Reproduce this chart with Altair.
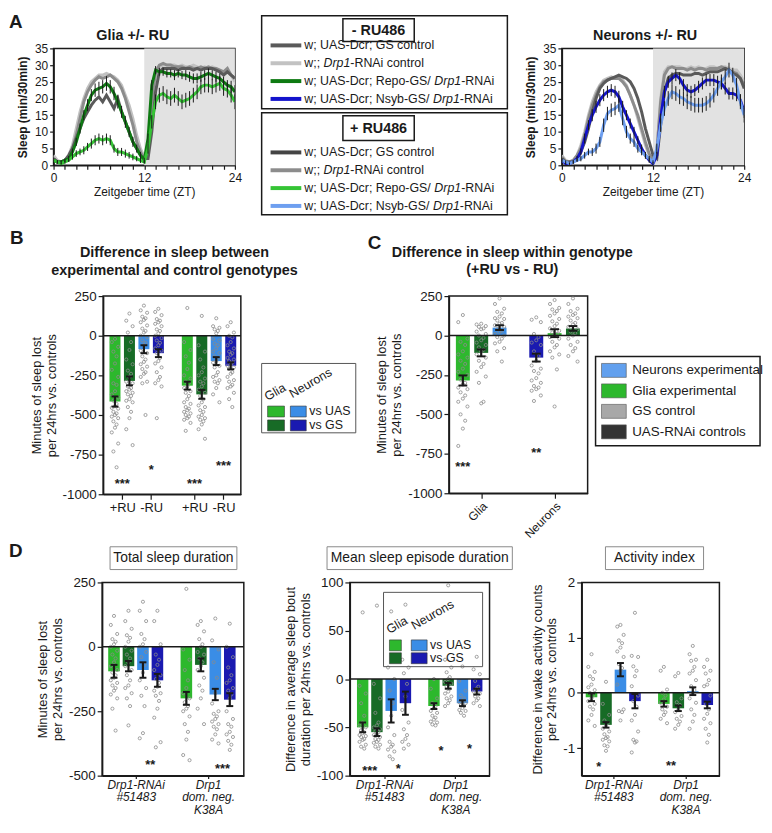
import altair as alt
import pandas as pd

FONT = "Liberation Sans"
INK = "#1a1a1a"
PT_GRAY = "#8a8a8a"

# ================= Panel A : sleep profiles (min sleep / 30 min) =================
ZT = [0, 0.5, 1, 1.5, 2, 2.5, 3, 3.5, 4, 4.5, 5, 5.5, 6, 6.5, 7, 7.5, 8, 8.5, 9, 9.5,
      10, 10.5, 11, 11.5, 12, 12.5, 13, 13.5, 14, 14.5, 15, 15.5, 16, 16.5, 17, 17.5,
      18, 18.5, 19, 19.5, 20, 20.5, 21, 21.5, 22, 22.5, 23, 23.5, 24]
A_XTICKS = [0, 1.5, 3, 4.5, 6, 7.5, 9, 10.5, 12, 13.5, 15, 16.5, 18, 19.5, 21, 22.5, 24]
A_YTICKS = [0, 5, 10, 15, 20, 25, 30, 35]
NIGHT_START = [12]
NIGHT_END = [24]

GLIA_RNAI_CTRL_NORU = [3, 1.5, 1, 1.5, 3, 6, 11, 16, 20, 23, 25, 26, 27, 27, 27.5, 27, 26.5, 25.5, 24, 21, 18, 14, 9, 5, 2.5,
                       3, 18, 27, 29.5, 30, 30, 30, 30, 29.5, 30, 29.5, 29.5, 30, 29.5, 29, 29.5, 29, 29.5, 29, 28.5, 28, 28.5, 27, 25]
GLIA_RNAI_CTRL_RU = [2, 1, 1, 1.5, 2.5, 5, 9, 14, 19, 22, 24, 25.5, 26.5, 26, 26.5, 27, 26, 25, 23, 20, 16, 12, 7, 4, 2,
                     3, 20, 28, 30, 30.5, 30, 30, 29.5, 29.5, 29.5, 29, 29.5, 29, 29, 29.5, 29, 29.5, 29, 29, 28.5, 28, 29, 27, 26]
GLIA_GS_CTRL = [2, 1, 1, 1.5, 3, 5, 8, 11, 14, 16, 18, 19.5, 20.5, 19, 21, 19, 17, 20, 16, 13, 10, 7, 5, 3, 2,
                2, 10, 22, 28, 29, 29, 29, 29, 28.5, 29, 29, 29, 28.5, 29, 28.5, 29, 29, 29, 28.5, 28, 27, 28, 27, 26]
GLIA_EXP_NORU = [1.5, 1, 1, 1.5, 2, 4, 7, 11, 15, 18, 21, 22.5, 23, 23.5, 24.5, 23.5, 21.5, 19, 16, 13, 10, 7, 5, 3, 1.5,
                 8, 24, 28.5, 28, 28, 27.5, 27.5, 27, 27.5, 27, 27, 26.5, 26, 26, 26.5, 27, 27.5, 27, 26.5, 26, 25, 24, 23.5, 22]
GLIA_EXP_RU = [1.5, 1, 0.5, 1, 1.5, 2.5, 3.5, 4, 4.5, 5.5, 6.5, 7.5, 8, 7.5, 8, 7.5, 5, 4, 4, 3.5, 3, 2.5, 2, 1.5, 1,
               5, 13, 19, 21, 21.5, 20.5, 20, 21, 20, 19, 19.5, 20, 21, 22, 23.5, 24, 24, 23.5, 24, 24.5, 23, 22.5, 21, 19]
GLIA_EXP_NORU_SEM = [0.5, 0.5, 0.5, 0.5, 0.8, 1, 1.2, 1.5, 1.5, 1.8, 1.8, 2, 2, 2, 2.2, 2, 2, 2, 1.8, 1.8, 1.5, 1.5, 1.2, 1, 0.8,
                     1.5, 1.5, 1.2, 1.2, 1.2, 1.2, 1.2, 1.5, 1.2, 1.2, 1.5, 1.5, 1.5, 1.5, 1.5, 1.5, 1.5, 1.5, 1.5, 1.5, 1.5, 1.5, 1.8, 2]
GLIA_EXP_RU_SEM = [0.5, 0.5, 0.3, 0.5, 0.5, 0.8, 1, 1, 1.2, 1.2, 1.5, 1.5, 1.5, 1.5, 1.5, 1.5, 1.2, 1.2, 1.2, 1.2, 1, 1, 0.8, 0.8, 0.5,
                   1.5, 2, 2.2, 2.2, 2.2, 2.2, 2.2, 2.2, 2.2, 2.2, 2.2, 2.2, 2.2, 2.2, 2.2, 2.2, 2.2, 2.2, 2.2, 2.2, 2.2, 2.2, 2.2, 2.2]

NEU_RNAI_CTRL_NORU = [3, 1.5, 1, 1.5, 3, 6, 10, 15, 19, 22, 24, 25.5, 26, 26.5, 26, 26.5, 25.5, 24, 21, 18, 14, 10, 6, 3, 1.5,
                      4, 20, 28, 29.5, 29.5, 29.5, 29.5, 29, 29, 29.5, 29, 29.5, 29, 29, 29.5, 29.5, 29, 29.5, 29.5, 29, 28.5, 28.5, 27, 25]
NEU_RNAI_CTRL_RU = [2.5, 1, 1, 1.5, 3, 5, 9, 14, 18, 21, 23.5, 25, 25.5, 26, 26, 26, 25, 23.5, 21, 18, 15, 11, 7, 3.5, 1.5,
                    4, 19, 27, 29, 29.5, 29, 29, 29, 28.5, 29, 28.5, 29, 29, 28.5, 29, 29, 29, 29.5, 29, 28.5, 28, 27.5, 26, 24]
NEU_GS_CTRL = [2, 1, 1, 1, 2, 4, 7, 11, 16, 20, 23, 24.5, 25.5, 26, 26.5, 27, 26.5, 26, 25, 23, 20, 16, 11, 7, 3,
               2, 12, 22, 26, 27, 27.5, 27.5, 27, 27, 27, 27.5, 27.5, 27, 27.5, 28, 28, 28, 28.5, 29, 28.5, 27.5, 27, 26, 23]
NEU_EXP_NORU = [1.5, 0.5, 0.5, 1, 2, 4, 8, 12, 15, 17.5, 19.5, 21, 22, 22.5, 22, 20.5, 17.5, 15, 12.5, 10, 7.5, 5, 3, 1.5, 0.5,
                3, 14, 22, 25, 26, 27, 26, 24, 22.5, 22, 22.5, 23.5, 24.5, 25.5, 25.5, 25.5, 25, 24.5, 23, 21.5, 21.5, 21, 19.5, 16]
NEU_EXP_RU = [1.5, 1, 0.5, 1, 1.5, 2, 3, 4, 4, 5, 7, 12, 15.5, 16.5, 17, 18, 14, 10, 8, 7, 5, 4, 3, 2, 1,
              5, 12, 17, 20, 22, 21.5, 20.5, 20, 19, 18.5, 18, 18, 18, 18.5, 19.5, 21, 23, 25, 26.5, 28.5, 27, 24, 19, 15]
NEU_EXP_NORU_SEM = [0.5, 0.3, 0.3, 0.5, 0.8, 1, 1.5, 1.5, 1.8, 1.8, 1.8, 1.8, 1.8, 1.8, 1.8, 1.8, 1.8, 1.5, 1.5, 1.5, 1.2, 1.2, 1, 0.8, 0.5,
                    1, 1.5, 1.8, 1.8, 1.8, 1.8, 1.8, 1.8, 1.8, 1.8, 1.8, 1.8, 1.8, 1.8, 1.8, 1.8, 1.8, 1.8, 1.8, 1.8, 1.8, 1.8, 1.8, 1.8]
NEU_EXP_RU_SEM = [0.5, 0.5, 0.3, 0.5, 0.5, 0.8, 1, 1, 1.2, 1.5, 1.5, 2, 2, 2, 2, 2, 2, 1.8, 1.5, 1.5, 1.2, 1, 1, 0.8, 0.5,
                  1.5, 2, 2.2, 2.2, 2.2, 2.2, 2.2, 2.2, 2.2, 2.2, 2.2, 2.2, 2.2, 2.2, 2.2, 2.2, 2.2, 2.2, 2.2, 2.2, 2.2, 2.2, 2.2, 2.2]

for _s in [GLIA_RNAI_CTRL_NORU, GLIA_RNAI_CTRL_RU, GLIA_GS_CTRL, GLIA_EXP_NORU, GLIA_EXP_RU, GLIA_EXP_NORU_SEM,
           GLIA_EXP_RU_SEM, NEU_RNAI_CTRL_NORU, NEU_RNAI_CTRL_RU, NEU_GS_CTRL, NEU_EXP_NORU, NEU_EXP_RU,
           NEU_EXP_NORU_SEM, NEU_EXP_RU_SEM]:
    assert len(_s) == len(ZT), len(_s)

LEG_NORU = ["w; UAS-Dcr; GS control", "w;; Drp1-RNAi control",
            "w; UAS-Dcr; Repo-GS/ Drp1-RNAi", "w; UAS-Dcr; Nsyb-GS/ Drp1-RNAi"]
LEG_RU = ["w; UAS-Dcr; GS control", "w;; Drp1-RNAi  control",
          "w; UAS-Dcr; Repo-GS/ Drp1-RNAi", "w; UAS-Dcr; Nsyb-GS/ Drp1-RNAi"]

# colours (style)
C_GS_NORU, C_RNAI_NORU, C_REPO_NORU, C_NSYB_NORU = "#5a5a5a", "#c2c2c2", "#0e7a12", "#1414cc"
C_GS_RU, C_RNAI_RU, C_REPO_RU, C_NSYB_RU = "#444444", "#8c8c8c", "#35c435", "#6e9ff0"
COL_GLIA_UAS, COL_GLIA_GS, COL_NEU_UAS, COL_NEU_GS = "#2db82d", "#176b26", "#3a8de6", "#1a1ab0"

# ================= Panel B =================
B_TICK_LABELS = ["+RU", "-RU", "+RU", "-RU"]
B_MEANS = [-415, -285, -85, -110, -315, -370, -160, -190]
B_SEMS = [32, 28, 25, 25, 25, 28, 25, 22]
B_POINTS = [
    [-20, -40, -70, -100, -130, -175, -215, -260, -300, -310, -350, -370, -390, -410, -430, -445, -455, -460, -480,
     -490, -500, -510, -520, -540, -560, -580, -610, -680, -730, -830],
    [140, 95, 60, 20, -40, -90, -150, -180, -220, -240, -260, -290, -300, -320, -330, -340, -350, -360, -370, -380,
     -400, -410, -420, -450, -480, -520, -590, -690],
    [190, 160, 145, 120, 110, 100, 85, 65, 45, 30, 20, 0, -10, -30, -45, -60, -95, -110, -130, -150, -165, -180,
     -195, -210, -230, -240, -260, -290, -300, -500],
    [170, 150, 130, 105, 95, 85, 75, 60, 40, 30, 15, 0, -15, -30, -45, -60, -80, -95, -110, -140, -160, -175, -200,
     -230, -260, -280, -300, -320, -520],
    [175, -40, -90, -130, -170, -210, -250, -270, -290, -300, -320, -330, -350, -360, -380, -400, -420, -430, -450,
     -460, -470, -480, -490, -500, -510, -520, -530, -550, -600],
    [125, -60, -100, -150, -200, -230, -250, -270, -290, -300, -320, -340, -360, -380, -400, -420, -440, -450, -470,
     -480, -500, -510, -520, -530, -540, -560, -590, -650],
    [110, 60, 50, 40, 30, 15, -20, -30, -50, -60, -80, -100, -110, -130, -140, -160, -170, -190, -200, -230, -250,
     -260, -280, -290, -300, -330, -370, -420],
    [85, 60, 20, 0, -10, -40, -60, -80, -100, -110, -120, -140, -150, -160, -170, -180, -190, -200, -210, -230,
     -240, -260, -280, -290, -310, -320, -330, -360, -400, -450],
]
B_STAR_PAIR = [0, 1, 2, 3]
B_STAR_Y = [-910, -825, -910, -795]
B_STAR_TEXT = ["***", "*", "***", "***"]

# ================= Panel C =================
C_GROUPS = ["Glia", "Neurons"]
C_MEANS = [-285, -110, 50, -140, 15, 45]
C_SEMS = [32, 22, 15, 25, 25, 15]
C_POINTS = [
    [130, 85, -20, -40, -60, -100, -120, -140, -160, -180, -210, -230, -250, -280, -300, -310, -330, -340, -360,
     -380, -400, -420, -450, -500, -540, -590, -700],
    [75, 70, 60, 55, 45, 40, 25, 10, 0, -15, -30, -45, -60, -75, -90, -100, -120, -140, -160, -180, -200, -230,
     -260, -300, -420, -430],
    [235, 200, 170, 150, 140, 120, 110, 105, 95, 80, 75, 65, 55, 40, 30, 20, 10, 0, -10, -20, -40, -50, -80, -100, -165],
    [115, 100, 85, 10, -10, -30, -45, -60, -100, -130, -160, -190, -210, -225, -240, -270, -285, -300, -320, -330,
     -340, -350, -380, -415],
    [225, 200, 175, 165, 155, 140, 125, 105, 90, 75, 60, 45, 30, 20, 10, 0, -10, -20, -40, -60, -75, -100, -120,
     -140, -215, -450],
    [235, 200, 170, 155, 140, 130, 120, 110, 95, 80, 70, 55, 40, 25, 15, 0, -20, -40, -60, -80, -100, -130, -165],
]
C_STAR_BAR = [0, 3]
C_STAR_Y = [-810, -720]
C_STAR_TEXT = ["***", "**"]
LEGC_LABELS = ["Neurons experimental", "Glia experimental", "GS control", "UAS-RNAi controls"]
LEGC_COLORS = ["#62a0ee", "#2db82d", "#a8a8a8", "#333333"]
C_BAR_COLORS = ["#2db82d", "#a6a6a6", "#5a5a5a", "#3a8de6", "#a6a6a6", "#5a5a5a"]

# ================= Panel D =================
D_GROUP_LABELS = [["Drp1-RNAi", "#51483"], ["Drp1", "dom. neg.", "K38A"]]
D1_MEANS = [-95, -75, -90, -130, -200, -70, -185, -205]
D1_SEMS = [25, 20, 30, 25, 25, 25, 22, 25]
D1_POINTS = [
    [120, 85, 50, 30, 20, 10, 0, -15, -30, -45, -60, -75, -90, -100, -110, -120, -130, -140, -150, -160, -170,
     -185, -200, -240, -325],
    [140, 100, 70, 45, 35, 20, 0, -15, -30, -45, -60, -75, -90, -110, -130, -150, -160, -180, -200, -230, -305],
    [175, 140, 100, 50, 30, 10, 0, -20, -40, -70, -100, -130, -160, -190, -230, -335, -355],
    [140, 100, 10, -30, -50, -70, -90, -110, -125, -140, -155, -170, -180, -190, -210, -240, -275, -370, -390],
    [225, -10, -50, -90, -130, -160, -180, -200, -215, -230, -240, -250, -270, -300, -330, -360, -420, -440],
    [100, 85, 60, 30, 10, 0, -20, -30, -45, -60, -75, -90, -120, -150, -170, -200, -240, -300],
    [110, 25, -10, -60, -120, -180, -220, -250, -260, -270, -280, -290, -300, -310, -320, -340, -360, -375],
    [90, 0, -40, -80, -110, -130, -140, -160, -170, -185, -200, -250, -280, -300, -310, -330, -340, -350, -365,
     -380, -400],
]
D1_STAR_PAIR = [1, 3]
D1_STAR_Y = [-445, -460]
D1_STAR_TEXT = ["**", "***"]

D2_MEANS = [-50, -55, -33, -25, -28, -7, -25, -13]
D2_SEMS = [5, 4, 12, 12, 3, 3, 3, 3]
D2_POINTS = [
    [69, -7, -15, -25, -38, -45, -48, -50, -53, -55, -56, -58, -59, -60, -62, -63, -65, -68, -70, -72],
    [76, -5, -20, -35, -45, -48, -50, -52, -54, -55, -57, -58, -60, -62, -63, -65, -66, -68, -70, -72],
    [70, 12, 0, -12, -25, -38, -50, -58, -65, -68, -70, -73, -75, -80, -83],
    [77, 20, 12, 6, -5, -18, -32, -45, -52, -58, -62, -65, -68, -72],
    [0, -10, -20, -25, -28, -30, -33, -35, -38, -40, -42, -44, -45, -47, -48],
    [97, 20, 12, 7, 2, 0, -3, -5, -8, -10, -13, -15, -18, -20, -22, -25, -28],
    [13, -2, -12, -17, -20, -22, -24, -25, -27, -28, -30, -32, -33, -35, -38],
    [23, 10, 5, -2, -8, -10, -13, -15, -18, -20, -22, -25, -28],
]
D2_STAR_PAIR = [0, 1, 2, 3]
D2_STAR_Y = [-91, -89, -70, -68]
D2_STAR_TEXT = ["***", "*", "*", "*"]

D3_MEANS = [-0.08, -0.58, 0.42, -0.15, -0.2, -0.28, 0.03, -0.22]
D3_SEMS = [0.07, 0.05, 0.12, 0.13, 0.05, 0.05, 0.07, 0.06]
D3_POINTS = [
    [0.7, 0.47, 0.38, 0.3, 0.25, 0.15, 0.1, 0.05, 0, -0.05, -0.1, -0.15, -0.2, -0.25, -0.3, -0.4, -0.5, -0.6],
    [0.2, -0.2, -0.4, -0.5, -0.55, -0.6, -0.65, -0.7, -0.75, -0.8, -0.82, -0.85, -0.88, -0.95, -0.97, -1.05],
    [1.23, 1.2, 1.05, 0.95, 0.9, 0.82, 0.75, 0.65, 0.52, 0.45, 0.4, 0.15, -0.3, -0.33, -0.35, -0.5],
    [1.45, 0.67, 0.65, 0.48, 0.4, 0.3, 0.12, -0.05, -0.15, -0.25, -0.4, -0.5, -0.7, -0.85, -0.88, -0.9, -1.08],
    [0.47, 0.4, 0.06, 0, -0.05, -0.12, -0.18, -0.25, -0.3, -0.35, -0.4, -0.47, -0.55],
    [0.36, 0.3, -0.1, -0.17, -0.22, -0.3, -0.35, -0.42, -0.47, -0.52, -0.58, -0.65],
    [0.85, 0.7, 0.6, 0.58, 0.47, 0.4, 0.35, 0.23, 0.12, 0.05, 0, -0.1, -0.18, -0.3, -0.4, -0.52, -0.65],
    [0.6, 0.47, 0.4, 0.35, 0.23, 0.15, 0.12, -0.05, -0.2, -0.3, -0.38, -0.47, -0.55, -0.65, -0.76, -0.9],
]
D3_STAR_PAIR = [0, 2]
D3_STAR_Y = [-1.28, -1.25]
D3_STAR_TEXT = ["*", "**"]

BASELINE = [0]
FOUR_COLORS = [COL_GLIA_UAS, COL_GLIA_GS, COL_NEU_UAS, COL_NEU_GS] * 2
POS8 = [0, 1, 2, 3, 5, 6, 7, 8]
POS6 = [0, 1, 2, 4, 5, 6]
JITTER = [0, -1, 1, -0.5, 0.5]   # beeswarm column pattern (layout only)

DUMMY = pd.DataFrame({"k": [0]})
NUM_LABEL = "datum.value < 0 ? '-' + format(-datum.value, 'd') : format(datum.value, 'd')"

CHAR_W = {" ": 278, ";": 278, "-": 333, "/": 278, ".": 278, "+": 584, "#": 556,
          "A": 667, "C": 722, "D": 722, "G": 778, "N": 722, "R": 722, "S": 667, "U": 722, "K": 667,
          "a": 556, "b": 556, "c": 500, "d": 556, "e": 556, "g": 556, "i": 222, "l": 222, "m": 833,
          "n": 556, "o": 556, "p": 556, "r": 333, "s": 500, "t": 278, "u": 556, "w": 722, "y": 500}


def text_w(s, size):
    return sum(CHAR_W.get(c, 556) for c in s) * size / 1000.0


# ---------------- helpers for decorations ----------------
def deco_rect(x1, y1, x2, y2, stroke=INK, sw=1.5, fill=None):
    kw = dict(stroke=stroke, strokeWidth=sw)
    if fill is None:
        kw.update(fill="white", fillOpacity=0)
    else:
        kw.update(fill=fill)
    return alt.Chart(DUMMY).mark_rect(**kw).encode(
        x=alt.value(x1), x2=alt.value(x2), y=alt.value(y1), y2=alt.value(y2))


def deco_text(txt, x, y, size, weight="normal", align="left", baseline="alphabetic", angle=None, style="normal"):
    kw = dict(text=txt, fontSize=size, fontWeight=weight, align=align, baseline=baseline,
              font=FONT, fontStyle=style, color=INK)
    if angle is not None:
        kw["angle"] = angle
    return alt.Chart(DUMMY).mark_text(**kw).encode(x=alt.value(x), y=alt.value(y))


def spacer_rule(x, y1, y2):
    return alt.Chart(DUMMY).mark_rule(strokeOpacity=0, color="white").encode(
        x=alt.value(x), y=alt.value(y1), y2=alt.value(y2))


def letter(ch, x, y):
    return deco_text(ch, x, y, 19, weight="bold")


def spacer_chart(w):
    return alt.Chart(DUMMY).mark_point(opacity=0).encode(
        x=alt.value(0), y=alt.value(0)).properties(width=w, height=10, view=alt.ViewBackground(strokeOpacity=0))


# ---------------- Panel A ----------------
def panel_a(title, tx, grays, colored, sems, width, extra):
    xs = alt.Scale(domain=[0, 24], nice=False, zero=False)
    ys = alt.Scale(domain=[0, 35], nice=False, zero=False)
    xaxis = alt.Axis(values=A_XTICKS, labelExpr="datum.value % 12 == 0 ? datum.label : ''",
                     title="Zeitgeber time (ZT)", labelFontSize=12, titleFontSize=12, tickSize=4,
                     labelPadding=3, titlePadding=3, labelOverlap=False)
    yaxis = alt.Axis(values=A_YTICKS, title="Sleep (min/30min)", labelFontSize=12, titleFontSize=12,
                     titleFontWeight="bold", tickSize=4, titlePadding=5, labelOverlap=False)
    night = pd.DataFrame({"start": NIGHT_START, "end": NIGHT_END})
    layers = [alt.Chart(night).mark_rect(color="#e2e2e2").encode(
        x=alt.X("start:Q", scale=xs, axis=xaxis), x2="end:Q")]
    for vals, color in grays + colored:
        df = pd.DataFrame({"zt": ZT, "v": vals})
        layers.append(alt.Chart(df).mark_line(color=color, strokeWidth=3, clip=True).encode(
            x=alt.X("zt:Q", scale=xs, axis=xaxis),
            y=alt.Y("v:Q", scale=ys, axis=yaxis)))
    for (vals, _c), sem in zip(colored, sems):
        df = pd.DataFrame({"zt": ZT,
                           "lo": [max(0, v - s) for v, s in zip(vals, sem)],
                           "hi": [v + s for v, s in zip(vals, sem)]})
        layers.append(alt.Chart(df).mark_rule(color=INK, strokeWidth=1, clip=True).encode(
            x=alt.X("zt:Q", scale=xs, axis=xaxis), y=alt.Y("lo:Q", scale=ys, axis=yaxis), y2="hi:Q"))
    layers.append(deco_text(title, tx, -8, 14.5, weight="bold", align="center"))
    layers += extra
    return alt.layer(*layers).properties(width=width, height=118)


a_left = panel_a("Glia +/- RU", 80,
                 [(GLIA_RNAI_CTRL_NORU, C_RNAI_NORU), (GLIA_RNAI_CTRL_RU, C_RNAI_RU), (GLIA_GS_CTRL, C_GS_NORU)],
                 [(GLIA_EXP_NORU, C_REPO_NORU), (GLIA_EXP_RU, C_REPO_RU)],
                 [GLIA_EXP_NORU_SEM, GLIA_EXP_RU_SEM], 183,
                 [letter("A", -45, -21), spacer_rule(-45, -36, 170)])
a_right = panel_a("Neurons +/- RU", 84,
                  [(NEU_RNAI_CTRL_NORU, C_RNAI_NORU), (NEU_RNAI_CTRL_RU, C_RNAI_RU), (NEU_GS_CTRL, C_GS_NORU)],
                  [(NEU_EXP_NORU, C_NSYB_NORU), (NEU_EXP_RU, C_NSYB_RU)],
                  [NEU_EXP_NORU_SEM, NEU_EXP_RU_SEM], 184, [])

# legend for panel A
LEGA_W = 276
rows_a = [0, 1, 2, 3, 6, 7, 8, 9]
labels_a = LEG_NORU + LEG_RU
colors_a = [C_GS_NORU, C_RNAI_NORU, C_REPO_NORU, C_NSYB_NORU, C_GS_RU, C_RNAI_RU, C_REPO_RU, C_NSYB_RU]
recs = []
TX0, FS_A = 43, 12.5
for r, lab, col in zip(rows_a, labels_a, colors_a):
    k = lab.find("Drp1")
    if k >= 0:
        pre, it, post = lab[:k], "Drp1", lab[k + 4:]
    else:
        pre, it, post = lab, "", ""
    x_it = TX0 + text_w(pre, FS_A)
    x_post = x_it + text_w(it, FS_A)
    recs.append({"row": r, "pre": pre, "it": it, "post": post, "x_it": x_it, "x_post": x_post, "col": col})
lega_df = pd.DataFrame(recs)
ROWS_A = alt.Scale(domain=[0, 9], range=[-3, 159], nice=False, zero=False)
PXS = alt.Scale(domain=[0, LEGA_W], range=[0, LEGA_W], nice=False, zero=False)
leg_a = alt.layer(
    deco_rect(0, -33, 248, 61),
    deco_rect(82, -30, 154, -7),
    deco_text("- RU486", 118, -18, 14.5, weight="bold", align="center", baseline="middle"),
    deco_rect(0, 65, 248, 168),
    deco_rect(82, 68, 154, 93),
    deco_text("+ RU486", 118, 81, 14.5, weight="bold", align="center", baseline="middle"),
    alt.Chart(lega_df).mark_rule(strokeWidth=4).encode(
        x=alt.value(9), x2=alt.value(40), y=alt.Y("row:Q", scale=ROWS_A, axis=None),
        color=alt.Color("col:N", scale=None)),
    alt.Chart(lega_df).mark_text(align="left", baseline="middle", fontSize=FS_A, font=FONT, color=INK).encode(
        x=alt.value(TX0), y=alt.Y("row:Q", scale=ROWS_A, axis=None), text="pre:N"),
    alt.Chart(lega_df).mark_text(align="left", baseline="middle", fontSize=FS_A, font=FONT, color=INK,
                                 fontStyle="italic").encode(
        x=alt.X("x_it:Q", scale=PXS, axis=None), y=alt.Y("row:Q", scale=ROWS_A, axis=None), text="it:N"),
    alt.Chart(lega_df).mark_text(align="left", baseline="middle", fontSize=FS_A, font=FONT, color=INK).encode(
        x=alt.X("x_post:Q", scale=PXS, axis=None), y=alt.Y("row:Q", scale=ROWS_A, axis=None), text="post:N"),
).properties(width=LEGA_W, height=170, view=alt.ViewBackground(strokeOpacity=0))

row1 = alt.hconcat(a_left, leg_a, a_right, spacing=27, bounds="flush")


# ---------------- bar panels ----------------
def pair_centers(pos, pairs):
    return [(pos[2 * p] + pos[2 * p + 1]) / 2 for p in pairs]


def bar_panel(means, sems, points, pos, colors, xdom, ydom, yvals, ytitle, xvals, label_expr,
              star_x, star_y, star_txt, width, height, half=0.38, label_angle=None, italic=False,
              extra=(), jit=0.22):
    n = len(means)
    bars = pd.DataFrame({"bar": ["b%d" % i for i in range(n)], "pos": pos, "mean": means, "sem": sems})
    bars["base"] = 0.0
    bars["x1"] = bars["pos"] - half
    bars["x2"] = bars["pos"] + half
    bars["lo"] = bars["mean"] - bars["sem"]
    bars["hi"] = bars["mean"] + bars["sem"]
    bars["c1"] = bars["pos"] - 0.24
    bars["c2"] = bars["pos"] + 0.24
    rows = []
    for i, vals in enumerate(points):
        for j, v in enumerate(vals):
            rows.append({"px": pos[i] + JITTER[j % len(JITTER)] * jit, "val": v})
    pts = pd.DataFrame(rows)
    stars = pd.DataFrame({"sx": star_x, "sy": star_y, "txt": star_txt})
    xs = alt.Scale(domain=xdom, nice=False, zero=False)
    ys = alt.Scale(domain=ydom, nice=False, zero=False)
    ax_kw = dict(values=xvals, labelExpr=label_expr, title=None, labelFontSize=13, tickSize=5,
                 labelPadding=2, labelOverlap=False)
    if label_angle is not None:
        ax_kw.update(labelAngle=label_angle, labelAlign="right", labelBaseline="top", labelFontSize=12)
    if italic:
        ax_kw.update(labelFontStyle="italic", labelLineHeight=12.5, labelFontSize=12, labelPadding=1,
                     labelBaseline="top", tickSize=3)
    X = lambda f: alt.X(f, scale=xs, axis=alt.Axis(**ax_kw))
    yaxis_kw = dict(values=yvals, title=ytitle, labelFontSize=13.5, titleFontSize=13, titlePadding=4,
                    tickSize=5, labelPadding=2, labelOverlap=False, labelExpr=NUM_LABEL)
    Y = lambda f: alt.Y(f, scale=ys, axis=alt.Axis(**yaxis_kw))
    color = alt.Color("bar:N", scale=alt.Scale(domain=list(bars["bar"]), range=colors), legend=None)
    layers = [
        alt.Chart(bars).mark_bar().encode(x=X("x1:Q"), x2="x2:Q", y=Y("mean:Q"), y2="base:Q", color=color),
        alt.Chart(pts).mark_point(filled=False, size=10, strokeWidth=0.8, color=PT_GRAY, opacity=1).encode(
            x=X("px:Q"), y=Y("val:Q")),
        alt.Chart(pd.DataFrame({"z": BASELINE})).mark_rule(color=INK, strokeWidth=1.5).encode(y=Y("z:Q")),
        alt.Chart(bars).mark_rule(color=INK, strokeWidth=2.2).encode(x=X("pos:Q"), y=Y("lo:Q"), y2="hi:Q"),
        alt.Chart(bars).mark_rule(color=INK, strokeWidth=2).encode(x=X("c1:Q"), x2="c2:Q", y=Y("lo:Q")),
        alt.Chart(bars).mark_rule(color=INK, strokeWidth=2).encode(x=X("c1:Q"), x2="c2:Q", y=Y("hi:Q")),
        alt.Chart(stars).mark_text(fontSize=13, fontWeight="bold", font=FONT, color=INK,
                                   baseline="middle", dy=4).encode(x=X("sx:Q"), y=Y("sy:Q"), text="txt:N"),
    ] + list(extra)
    return alt.layer(*layers).properties(width=width, height=height)


YT_MIN = ["Minutes of sleep lost", "per 24hrs vs. controls"]

# panel B
b_expr = "datum.value < 1.5 ? '%s' : datum.value < 4 ? '%s' : datum.value < 6.5 ? '%s' : '%s'" % tuple(B_TICK_LABELS)
panel_b = bar_panel(
    B_MEANS, B_SEMS, B_POINTS, POS8, FOUR_COLORS, [-0.82, 8.7], [-1000, 250],
    [-1000, -750, -500, -250, 0, 250], YT_MIN, pair_centers(POS8, [0, 1, 2, 3]), b_expr,
    pair_centers(POS8, B_STAR_PAIR), B_STAR_Y, B_STAR_TEXT, 139, 200,
    extra=[deco_text("Difference in sleep between", 72, -39, 14.5, weight="bold", align="center"),
           deco_text("experimental and control genotypes", 72, -21, 14.5, weight="bold", align="center"),
           letter("B", -94, -53), spacer_rule(-95, -78, 245)])


def gn_legend(bx, by, bw, bh, glia_at, neu_at, r1, r2, gx, blx, tx, fs=13):
    L = [deco_rect(bx, by, bx + bw, by + bh, stroke="#555555", sw=1),
         deco_text("Glia", bx + glia_at[0], by + glia_at[1], fs, angle=330),
         deco_text("Neurons", bx + neu_at[0], by + neu_at[1], fs, angle=330)]
    for (y1, y2), cg, cb, lab in [(r1, COL_GLIA_UAS, COL_NEU_UAS, "vs UAS"), (r2, COL_GLIA_GS, COL_NEU_GS, "vs GS")]:
        L.append(deco_rect(bx + gx[0], by + y1, bx + gx[1], by + y2, stroke="#333333", sw=0.6, fill=cg))
        L.append(deco_rect(bx + blx[0], by + y1, bx + blx[1], by + y2, stroke="#333333", sw=0.6, fill=cb))
        L.append(deco_text(lab, bx + tx, by + (y1 + y2) / 2, fs, baseline="middle"))
    return L


leg_b = alt.layer(*gn_legend(13, 68, 95, 70, (6, 38), (31, 35), (43, 54), (57, 68), (6, 23), (29, 45), 48,
                             fs=12.5)).properties(width=194, height=200, view=alt.ViewBackground(strokeOpacity=0))

# panel C
c_expr = "datum.value < 3 ? '%s' : '%s'" % tuple(C_GROUPS)
panel_c = bar_panel(
    C_MEANS, C_SEMS, C_POINTS, POS6, C_BAR_COLORS, [-0.76, 6.8], [-1000, 250],
    [-1000, -750, -500, -250, 0, 250], YT_MIN, [1, 5], c_expr,
    [POS6[i] for i in C_STAR_BAR], C_STAR_Y, C_STAR_TEXT, 140, 199, label_angle=315, jit=0.25,
    extra=[deco_text("Difference in sleep within genotype", 64, -39, 14.5, weight="bold", align="center"),
           deco_text("(+RU vs - RU)", 64, -22, 14.5, weight="bold", align="center"),
           letter("C", -82, -48)])

ROWS_C = alt.Scale(domain=[0, 3], range=[75, 137], nice=False, zero=False)
legc_df = pd.DataFrame({"row": [0, 1, 2, 3], "lab": LEGC_LABELS, "col": LEGC_COLORS})
legc_df["y1"] = legc_df["row"] - 0.34
legc_df["y2"] = legc_df["row"] + 0.34
leg_c = alt.layer(
    deco_rect(0, 61, 166, 151),
    alt.Chart(legc_df).mark_rect(stroke="#555555", strokeWidth=0.6).encode(
        x=alt.value(6), x2=alt.value(31), y=alt.Y("y1:Q", scale=ROWS_C, axis=None), y2="y2:Q",
        color=alt.Color("col:N", scale=None)),
    alt.Chart(legc_df).mark_text(align="left", baseline="middle", fontSize=13.5, font=FONT, color=INK).encode(
        x=alt.value(37), y=alt.Y("row:Q", scale=ROWS_C, axis=None), text="lab:N"),
).properties(width=166, height=200, view=alt.ViewBackground(strokeOpacity=0))

# leading spacer keeps every row's left edge at the same offset
row2 = alt.hconcat(spacer_chart(42), panel_b, leg_b, panel_c, leg_c, spacing=8, bounds="flush")

# row 3 (panel D)
d_expr = "datum.value < 4 ? %s : %s" % (str(D_GROUP_LABELS[0]), str(D_GROUP_LABELS[1]))
D_XT = [(POS8[0] + POS8[3]) / 2, (POS8[4] + POS8[7]) / 2]
D_H = 195


def d_title(txt, x1, x2):
    return [deco_rect(x1, -36, x2, -13, stroke="#8a8a8a", sw=1),
            deco_text(txt, (x1 + x2) / 2, -24.5, 14, align="center", baseline="middle")]


panel_d1 = bar_panel(
    D1_MEANS, D1_SEMS, D1_POINTS, POS8, FOUR_COLORS, [-0.82, 8.97], [-500, 250],
    [-500, -250, 0, 250], YT_MIN, D_XT, d_expr,
    pair_centers(POS8, D1_STAR_PAIR), D1_STAR_Y, D1_STAR_TEXT, 143, D_H, half=0.4, italic=True,
    extra=d_title("Total sleep duration", 8, 136) + [letter("D", -94, -26), spacer_rule(-94, -41, 10)])
panel_d2 = bar_panel(
    D2_MEANS, D2_SEMS, D2_POINTS, POS8, FOUR_COLORS, [-0.9, 8.9], [-100, 100],
    [-100, -50, 0, 50, 100], ["Difference in average sleep bout", "duration per 24hrs vs. controls"],
    D_XT, d_expr, pair_centers(POS8, D2_STAR_PAIR), D2_STAR_Y, D2_STAR_TEXT, 141, D_H, half=0.4, italic=True,
    extra=d_title("Mean sleep episode duration", -23, 164)
    + gn_legend(34, 10, 100, 75, (6, 42), (31, 38), (48, 59), (61, 72), (6, 18), (28, 44), 47, fs=12.5))
panel_d3 = bar_panel(
    D3_MEANS, D3_SEMS, D3_POINTS, POS8, FOUR_COLORS, [-0.68, 8.84], [-1.5, 2],
    [-1, 0, 1, 2], ["Difference in wake activity counts", "per 24hrs vs. controls"],
    D_XT, d_expr, pair_centers(POS8, D3_STAR_PAIR), D3_STAR_Y, D3_STAR_TEXT, 139, D_H, half=0.4, italic=True,
    extra=d_title("Activity index", 24, 123))

row3 = alt.hconcat(spacer_chart(39), panel_d1, spacer_chart(87), panel_d2, spacer_chart(73), panel_d3,
                   spacing=10, bounds="flush")

chart = alt.vconcat(row1, row2, row3, spacing=0).properties(padding=0).configure(
    font=FONT
).configure_view(
    stroke=INK, strokeWidth=1.5
).configure_axis(
    domainColor=INK, domainWidth=1.5, tickColor=INK, tickWidth=1.2, labelColor=INK, titleColor=INK,
    labelFont=FONT, titleFont=FONT, grid=False, titleFontWeight="normal", labelFlush=False
)

chart.save("out.html", embed_options={"renderer": "svg", "actions": False})
